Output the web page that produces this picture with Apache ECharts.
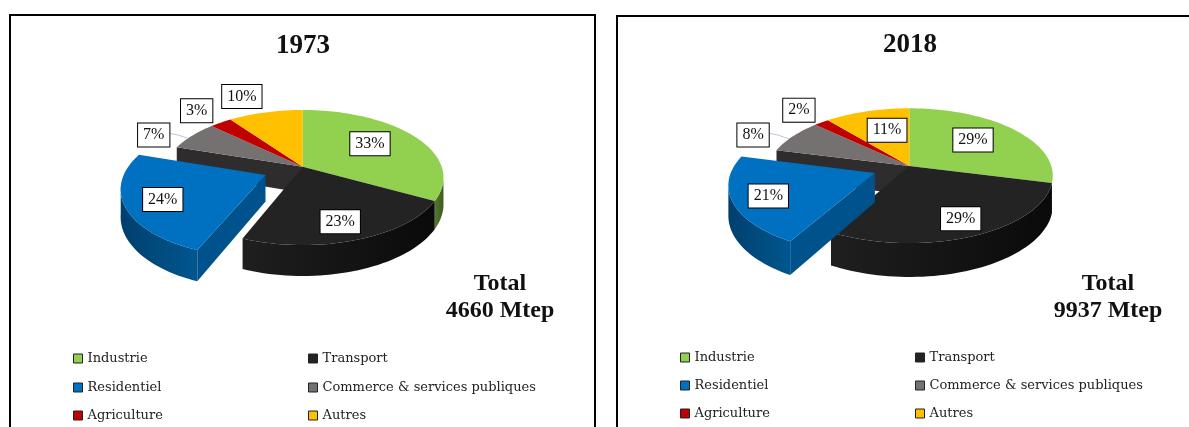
<!DOCTYPE html>
<html>
<head>
<meta charset="utf-8">
<style>html,body{margin:0;padding:0;background:#fff}#c{width:1189px;height:427px}</style>
<script src="https://cdn.jsdelivr.net/npm/echarts@6/dist/echarts.min.js"></script>
</head>
<body>
<div id="c"></div>
<script>
// ---------- data ----------
const categories = ['Industrie', 'Transport', 'Residentiel', 'Commerce & services publiques', 'Agriculture', 'Autres'];
const shares1973 = [33, 23, 24, 7, 3, 10];
const shares2018 = [29, 29, 21, 8, 2, 11];
const years = ['1973', '2018'];
const totals = ['4660 Mtep', '9937 Mtep'];

// ---------- styles / layout ----------
const topColors = ['#92d050', '#232323', '#0070c0', '#767171', '#c00000', '#ffc000'];
const wallColors = {
  0: ['#55792c', '#3e5a1e'],
  1: ['#1f1f1f', '#0a0a0a'],
  2: ['#003f6e', '#00578f']
};
const cutWallColors = { 2: '#00528c', 3: '#2e2c2c' };
const EXPLODED = 2;
const pies = [
  { shares: shares1973, cx: 302.7, cy: 166.7, R: 139, Ry: 65.8, k: 0.16, depth: 26, explode: 0.29, noWall: [],
    spots: [[54.2, .632], [162.1, .775], [243.7, 1.04], [294.2, 1.273], [318.1, 1.322], [337.7, 1.391]] },
  { shares: shares2018, cx: 909.3, cy: 166, R: 142, Ry: 66, k: 0.144, depth: 29, explode: 0.26, noWall: [0],
    spots: [[48.7, .633], [155.6, .786], [245.4, 1.025], [293.1, 1.283], [317.4, 1.308], [343.9, .612]] }
];
const SERIF = '"Liberation Serif", serif';
const LEGEND_FONT = '"DejaVu Serif", serif';

function point(p, deg, r, off, h) {
  const a = deg * Math.PI / 180;
  const u = r * Math.sin(a) + off[0];
  const v = -r * Math.cos(a) + off[1];
  const s = 1 / (1 - p.k * v);
  return [p.cx + p.R * u * s, p.cy + p.Ry * v * s + (h || 0) * s];
}

function makeRenderer(p, idx) {
  return function (params, api) {
    const share = api.value(0);
    const before = p.shares.slice(0, idx).reduce((a, b) => a + b, 0);
    const total = p.shares.reduce((a, b) => a + b, 0);
    const a0 = before / total * 360;
    const a1 = (before + share) / total * 360;
    const mid = (a0 + a1) / 2 * Math.PI / 180;
    const off = idx === EXPLODED ? [p.explode * Math.sin(mid), -p.explode * Math.cos(mid)] : [0, 0];
    const kids = [];
    const baseZ = idx === EXPLODED ? 3 : 1;

    // rim of the slice
    const rim = [];
    const steps = Math.max(6, Math.ceil((a1 - a0) / 2));
    for (let i = 0; i <= steps; i++) rim.push(a0 + (a1 - a0) * i / steps);

    // outer wall: only the part that faces the viewer
    const front = rim.filter(d => -Math.cos(d * Math.PI / 180) >= p.k);
    if (wallColors[idx] && front.length > 1 && p.noWall.indexOf(idx) < 0) {
      const upper = front.map(d => point(p, d, 1, off, 0));
      const lower = front.map(d => point(p, d, 1, off, p.depth)).reverse();
      kids.push({
        type: 'polygon', z2: baseZ,
        shape: { points: upper.concat(lower) },
        style: {
          fill: { type: 'linear', x: 0, y: 0, x2: 1, y2: 0,
            colorStops: [{ offset: 0, color: wallColors[idx][0] }, { offset: 1, color: wallColors[idx][1] }] }
        }
      });
    }
    // wall along the start edge, seen through the gap
    if (cutWallColors[idx]) {
      const apex = point(p, a0, 0, off, 0), apexLow = point(p, a0, 0, off, p.depth);
      const edge = point(p, a0, 1, off, 0), edgeLow = point(p, a0, 1, off, p.depth);
      kids.push({
        type: 'polygon', z2: baseZ,
        shape: { points: [apex, edge, edgeLow, apexLow] },
        style: { fill: cutWallColors[idx] }
      });
    }
    // top surface
    kids.push({
      type: 'polygon', z2: baseZ + 1,
      shape: { points: [point(p, a0, 0, off, 0)].concat(rim.map(d => point(p, d, 1, off, 0))) },
      style: { fill: topColors[idx] }
    });
    // label
    const spot = p.spots[idx];
    const at = point(p, spot[0], spot[1], [0, 0], 0);
    const isLeader = spot[1] > 1.2 && spot[1] < 1.3;
    if (isLeader) {
      const midDeg = (a0 + a1) / 2;
      const end = point(p, midDeg - 3, 1, off, 0);
      kids.push({
        type: 'polyline', z2: 5,
        shape: { points: [[at[0] + 14, at[1] - 2], [(at[0] + 14 + end[0]) / 2, at[1] + 0], end] },
        style: { fill: null, stroke: '#b9c7da', lineWidth: 1 }
      });
    }
    kids.push({
      type: 'text', z2: 6, x: at[0], y: at[1],
      style: {
        text: share + '%', x: 0, y: 0, align: 'center', verticalAlign: 'middle',
        font: '16px ' + SERIF, fill: '#111',
        backgroundColor: '#fff', borderColor: '#000', borderWidth: 1, padding: [4, 5, 3, 5]
      }
    });
    return { type: 'group', children: kids };
  };
}

const series = [];
pies.forEach(p => {
  categories.forEach((name, i) => {
    series.push({
      type: 'custom', name, coordinateSystem: 'none', silent: true, animation: false,
      itemStyle: { color: topColors[i] },
      data: [[p.shares[i]]],
      renderItem: makeRenderer(p, i)
    });
  });
});

// ---------- legends: two columns, three rows, per panel ----------
const legendCols = [[73, 308], [680, 915]];
const legendRows = [[352, 381, 409], [351, 379, 407]];
const legends = [];
legendCols.forEach((cols, pi) => {
  categories.forEach((name, i) => {
    legends.push({
      data: [name], selectedMode: false, orient: 'horizontal',
      left: cols[i % 2], top: legendRows[pi][Math.floor(i / 2)], padding: 0,
      itemWidth: 9, itemHeight: 9, icon: 'rect',
      itemStyle: { borderColor: '#222', borderWidth: 1 },
      textStyle: { fontFamily: LEGEND_FONT, fontSize: 13, color: '#222' }
    });
  });
});

const titleStyle = { fontFamily: SERIF, fontWeight: 'bold', fontSize: 27, color: '#111' };
const totalStyle = { fontFamily: SERIF, fontWeight: 'bold', fontSize: 24, lineHeight: 27, color: '#111' };
const titles = [
  { text: years[0], left: 303, top: 33, textAlign: 'center', textStyle: titleStyle },
  { text: years[1], left: 910, top: 32, textAlign: 'center', textStyle: titleStyle },
  { text: 'Total\n' + totals[0], left: 500, top: 270, textAlign: 'center', textStyle: totalStyle },
  { text: 'Total\n' + totals[1], left: 1108, top: 270, textAlign: 'center', textStyle: totalStyle }
];
titles.forEach(t => { t.padding = 0; });

const chart = echarts.init(document.getElementById('c'), null, { renderer: 'canvas' });
chart.setOption({
  animation: false,
  backgroundColor: '#fff',
  title: titles,
  legend: legends,
  tooltip: { show: false },
  graphic: [
    { type: 'rect', z: 0, shape: { x: 10, y: 15, width: 585, height: 500 }, style: { fill: 'none', stroke: '#000', lineWidth: 2 } },
    { type: 'rect', z: 0, shape: { x: 617, y: 16, width: 700, height: 500 }, style: { fill: 'none', stroke: '#000', lineWidth: 2 } }
  ],
  series
});
</script>
</body>
</html>
